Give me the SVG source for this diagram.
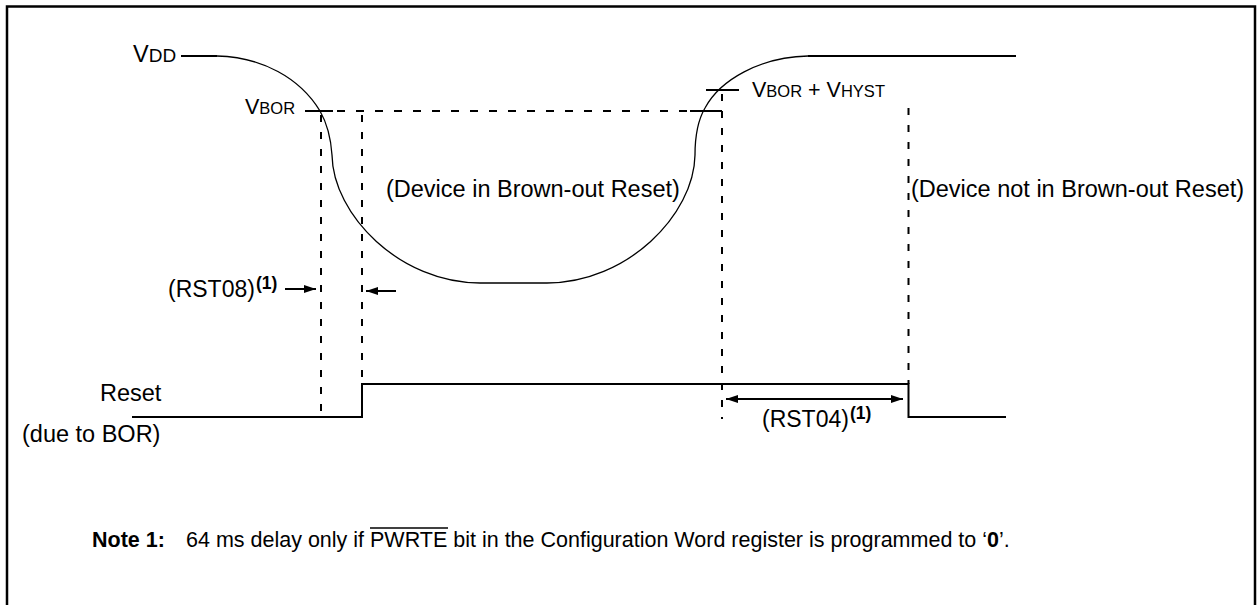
<svg xmlns="http://www.w3.org/2000/svg" width="1259" height="605" viewBox="0 0 1259 605">
<style>
text{font-family:"Liberation Sans",Arial,sans-serif;fill:#000}
.lbl{font-size:23.5px}
.sm{font-size:16.5px}
.sup{font-size:17.5px;font-weight:bold}
.note{font-size:21.5px}
.sig{fill:none;stroke:#000;stroke-width:2}
.curve{fill:none;stroke:#000;stroke-width:1.3}
.dash{fill:none;stroke:#000;stroke-width:2;stroke-dasharray:7 10}
.hdash{fill:none;stroke:#000;stroke-width:1.8;stroke-dasharray:8 11}
.arr{fill:none;stroke:#000;stroke-width:2}
</style>
<defs>
<marker id="ah" viewBox="0 0 12 8" refX="12" refY="4" markerWidth="12" markerHeight="8" markerUnits="userSpaceOnUse" orient="auto-start-reverse">
<path d="M0,0 L12,4 L0,8 Z" fill="#000"/>
</marker>
</defs>
<rect x="7" y="6.5" width="1248" height="610" fill="#fff" stroke="#000" stroke-width="2.5"/>

<g id="vdd-signal">
<text x="133" y="62" font-size="23.5">V<tspan font-size="19">DD</tspan></text>
<line class="sig" x1="181" y1="56" x2="217" y2="56"/>
<path class="curve" d="M217,56 C262,57 300,78 320,111 C328,125 331,140 332,155 C333,215 400,283 480,283 L547,283 C627,283 694,215 695,155 C695,135 698,120 705,108 C720,80 760,57 808,56"/>
<line class="sig" x1="808" y1="56" x2="1016" y2="56"/>
</g>

<g id="vbor">
<text x="245" y="114" font-size="21.5">V<tspan class="sm">BOR</tspan></text>
<line class="sig" x1="305" y1="111" x2="333" y2="111"/>
<line class="hdash" x1="337" y1="111" x2="690" y2="111"/>
<line class="sig" x1="690" y1="111" x2="722" y2="111"/>
</g>

<g id="vbor-hyst">
<line class="sig" x1="706" y1="90" x2="739" y2="90"/>
<text x="752" y="97" font-size="21.5" xml:space="preserve">V<tspan class="sm">BOR</tspan> + V<tspan class="sm">HYST</tspan></text>
</g>

<g id="markers">
<line class="dash" x1="321" y1="115" x2="321" y2="413"/>
<line class="dash" x1="362" y1="115" x2="362" y2="384"/>
<line class="dash" x1="722" y1="94" x2="722" y2="419"/>
<line class="dash" x1="908.5" y1="108" x2="908.5" y2="384"/>
</g>

<g id="labels">
<text class="lbl" x="386" y="197">(Device in Brown-out Reset)</text>
<text class="lbl" x="911" y="197">(Device not in Brown-out Reset)</text>
</g>

<g id="reset-signal">
<text class="lbl" x="100" y="401">Reset</text>
<text class="lbl" x="22" y="442">(due to BOR)</text>
<polyline class="sig" points="132,417 362,417 362,384 908.5,384 908.5,417 1006,417"/>
</g>

<g id="rst08">
<text x="168" y="297" font-size="23">(RST08)<tspan class="sup" dx="1" dy="-8">(1)</tspan></text>
</g>

<g id="rst04">
<text x="762" y="427" font-size="23">(RST04)<tspan class="sup" dx="1" dy="-8">(1)</tspan></text>
</g>

<g id="connectors">
<line class="arr" x1="285" y1="289" x2="316" y2="289" marker-end="url(#ah)"/>
<line class="arr" x1="396" y1="291" x2="366" y2="291" marker-end="url(#ah)"/>
<line class="arr" x1="726" y1="399" x2="903" y2="399" marker-start="url(#ah)" marker-end="url(#ah)"/>
</g>

<g id="note">
<text class="note" x="92" y="547" font-weight="bold">Note  1:</text>
<text class="note" x="186" y="547">64 ms delay only if PWRTE bit in the Configuration Word register is programmed to &#8216;<tspan font-weight="bold">0</tspan>&#8217;.</text>
<line x1="370" y1="528" x2="448" y2="528" stroke="#000" stroke-width="1.6"/>
</g>
</svg>
